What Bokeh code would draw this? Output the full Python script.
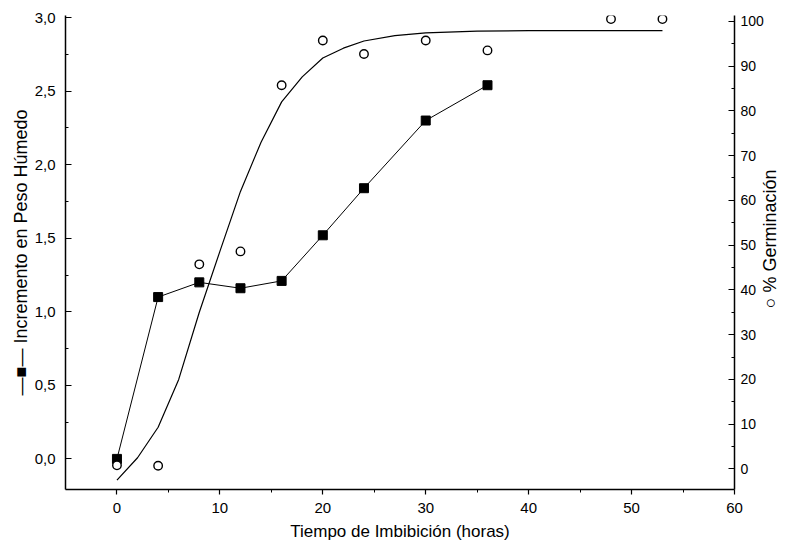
import math
from bokeh.plotting import figure
from bokeh.layouts import row
from bokeh.models import Range1d, LinearAxis, FixedTicker
from bokeh.core.properties import value
from bokeh.embed import file_html
from bokeh.resources import INLINE

# ---- data ----
hours = [0, 4, 8, 12, 16, 20, 24, 30, 36]
weight_gain = [0.0, 1.10, 1.20, 1.16, 1.21, 1.52, 1.84, 2.30, 2.54]

germ_hours = [0, 4, 8, 12, 16, 20, 24, 30, 36, 48, 53]
germination = [0.8, 0.7, 45.7, 48.6, 85.7, 95.7, 92.7, 95.7, 93.5, 100.5, 100.5]

fit_hours = [0, 2, 4, 6, 8, 10, 12, 14, 16, 18, 20, 22, 24, 27, 30, 35, 40, 53]
fit_germination = [-2.5, 2.5, 9.3, 20.0, 35.0, 48.6, 62.0, 73.0, 82.0, 87.6, 91.8,
                   94.0, 95.6, 96.8, 97.4, 97.8, 97.9, 97.9]

x_ticks = [0, 10, 20, 30, 40, 50, 60]
x_minor = [5, 15, 25, 35, 45, 55]
y_ticks = [0.0, 0.5, 1.0, 1.5, 2.0, 2.5, 3.0]
y_tick_labels = ["0,0", "0,5", "1,0", "1,5", "2,0", "2,5", "3,0"]
y_minor = [0.25, 0.75, 1.25, 1.75, 2.25, 2.75]
pct_ticks = [0, 10, 20, 30, 40, 50, 60, 70, 80, 90, 100]
pct_minor = [5, 15, 25, 35, 45, 55, 65, 75, 85, 95]

x_title = "Tiempo de Imbibición (horas)"
y_title = "—■— Incremento en Peso Húmedo"
y2_title = "○  % Germinación"

FONT = "Liberation Sans"
H = 543

p = figure(width=766, height=H, output_backend="svg", toolbar_location=None,
           x_range=Range1d(-5, 60), y_range=Range1d(-0.208, 3.014),
           min_border_left=65, min_border_right=30, min_border_top=15,
           min_border_bottom=54)
p.extra_y_ranges = {"pct": Range1d(-4.6, 101.3)}
p.grid.visible = False
p.outline_line_color = None
p.background_fill_color = "white"
p.border_fill_color = "white"

right = LinearAxis(y_range_name="pct")
p.add_layout(right, "right")

xa = p.xaxis[0]
ya = p.yaxis[0]

xa.ticker = FixedTicker(ticks=x_ticks, minor_ticks=x_minor)
ya.ticker = FixedTicker(ticks=y_ticks, minor_ticks=y_minor)
right.ticker = FixedTicker(ticks=pct_ticks, minor_ticks=pct_minor)
ya.major_label_overrides = dict(zip(y_ticks, y_tick_labels))

for ax in (xa, ya, right):
    ax.axis_line_color = "black"
    ax.axis_line_width = 1.5
    ax.major_tick_line_color = "black"
    ax.minor_tick_line_color = "black"
    ax.major_tick_line_width = 1.2
    ax.minor_tick_line_width = 1.0
    ax.major_label_text_font = FONT
    ax.major_label_text_font_size = "15px"
    ax.major_label_text_color = "black"
    ax.axis_label_text_font = FONT
    ax.axis_label_text_font_size = "17px"
    ax.axis_label_text_font_style = "normal"
    ax.axis_label_text_color = "black"

xa.major_tick_out = 5
xa.major_tick_in = 0
xa.minor_tick_out = 3
xa.minor_tick_in = 0
xa.major_label_standoff = 8
xa.axis_label = x_title
xa.axis_label_standoff = 6

ya.major_tick_in = 6
ya.major_tick_out = 0
ya.minor_tick_in = 3
ya.minor_tick_out = 0
ya.major_label_standoff = 10
ya.axis_label = y_title
ya.axis_label_standoff = 1
ya.axis_label_text_font_size = "18px"

right.major_tick_in = 6
right.major_tick_out = 0
right.minor_tick_in = 3
right.minor_tick_out = 0
right.major_label_standoff = 6
right.major_label_text_font_size = "14px"

# weight gain series
p.line(hours, weight_gain, line_color="black", line_width=1)
p.scatter(hours, weight_gain, marker="square", size=9,
          fill_color="black", line_color="black")

# germination fit and points
p.line(fit_hours, fit_germination, y_range_name="pct",
       line_color="black", line_width=1.2)
p.scatter(germ_hours, germination, marker="circle", size=8.5, y_range_name="pct",
          fill_color="white", line_color="black", line_width=1.4)

# transparent strip on the right carrying the right-hand title, reading upward
q = figure(width=22, height=H, output_backend="svg", toolbar_location=None,
           x_range=Range1d(0, 1), y_range=Range1d(0, H),
           x_axis_type=None, y_axis_type=None, min_border=0,
           margin=(0, 0, 0, -8))
q.grid.visible = False
q.outline_line_color = None
q.background_fill_color = None
q.border_fill_color = None
q.background_fill_alpha = 0
q.border_fill_alpha = 0
q.text(x=[0.5], y=[H - 253], text=[y2_title], angle=math.pi / 2,
       text_align="center", text_baseline="middle",
       text_font=value(FONT), text_font_size="18px", text_color="black")

layout = row(p, q)
open("out.html", "w").write(file_html(layout, INLINE))
